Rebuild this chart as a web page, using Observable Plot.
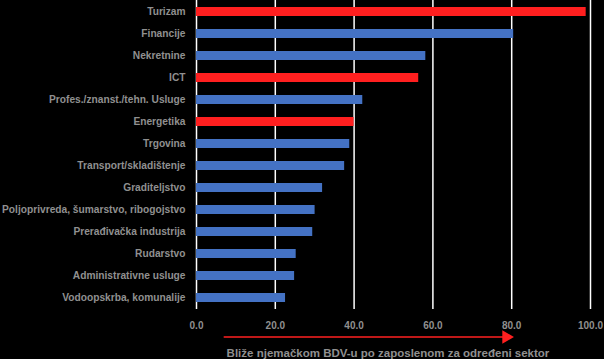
<!DOCTYPE html>
<html>
<head>
<meta charset="utf-8">
<script src="https://cdn.jsdelivr.net/npm/d3@7"></script>
<script src="https://cdn.jsdelivr.net/npm/@observablehq/plot@0.6"></script>
<style>
  html, body { margin: 0; padding: 0; background: #000; }
  #chart svg { display: block; }
</style>
</head>
<body>
<div id="chart"></div>
<script>
const sectors = [
  "Turizam", "Financije", "Nekretnine", "ICT", "Profes./znanst./tehn. Usluge",
  "Energetika", "Trgovina", "Transport/skladištenje", "Graditeljstvo",
  "Poljoprivreda, šumarstvo, ribogojstvo", "Prerađivačka industrija", "Rudarstvo",
  "Administrativne usluge", "Vodoopskrba, komunalije"
];
const values = [98.9, 80.5, 58.2, 56.4, 42.2, 40.0, 38.9, 37.6, 32.0, 30.1, 29.5, 25.3, 24.9, 22.6];
const highlighted = ["Turizam", "ICT", "Energetika"];
const xTicks = [0, 20, 40, 60, 80, 100];
const arrowFrom = [6.9];
const arrowTo = [79.9];
const caption = "Bliže njemačkom BDV-u po zaposlenom za određeni sektor";

const data = sectors.map((s, i) => ({sector: s, value: values[i], hi: highlighted.includes(s)}));
const last = sectors[sectors.length - 1];
const grey = "#909090";

const chart = Plot.plot({
  width: 604,
  height: 359,
  marginLeft: 196,
  marginRight: 14,
  marginTop: 0,
  marginBottom: 50,
  style: {background: "#000", color: grey, fontFamily: "Liberation Sans, Arial, sans-serif"},
  x: {domain: [0, 100], ticks: xTicks, tickFormat: d => d.toFixed(1), label: null},
  y: {domain: sectors, paddingInner: 0.6, paddingOuter: 0.3, label: null},
  marks: [
    Plot.gridX(xTicks, {stroke: "#ffffff", strokeOpacity: 1, strokeWidth: 1.5}),
    Plot.barX(data, {x: "value", y: "sector", fill: d => d.hi ? "#ff1f1f" : "#4472c4"}),
    Plot.axisX({ticks: xTicks, tickSize: 0, tickPadding: 12, tickFormat: d => d.toFixed(1), fontSize: 10, fontWeight: "bold", fill: grey, label: null}),
    Plot.axisY({tickSize: 0, tickPadding: 11, fontSize: 10.2, fontWeight: "bold", fill: grey, label: null}),
    Plot.link([0], {x1: () => arrowFrom[0], x2: () => arrowTo[0] - 1.5, y1: () => last, y2: () => last, dy: 39, stroke: "#ff2020", strokeWidth: 1.3}),
    Plot.dot([0], {x: () => arrowTo[0] - 1.3, y: () => last, dy: 39, symbol: "triangle", rotate: 90, r: 5, fill: "#ff2020", stroke: "none"}),
    Plot.text([caption], {text: d => d, x: () => 48.6, y: () => last, dy: 55, fontSize: 11.5, fontWeight: "bold", fill: grey})
  ]
});
document.getElementById("chart").appendChild(chart);
</script>
</body>
</html>
